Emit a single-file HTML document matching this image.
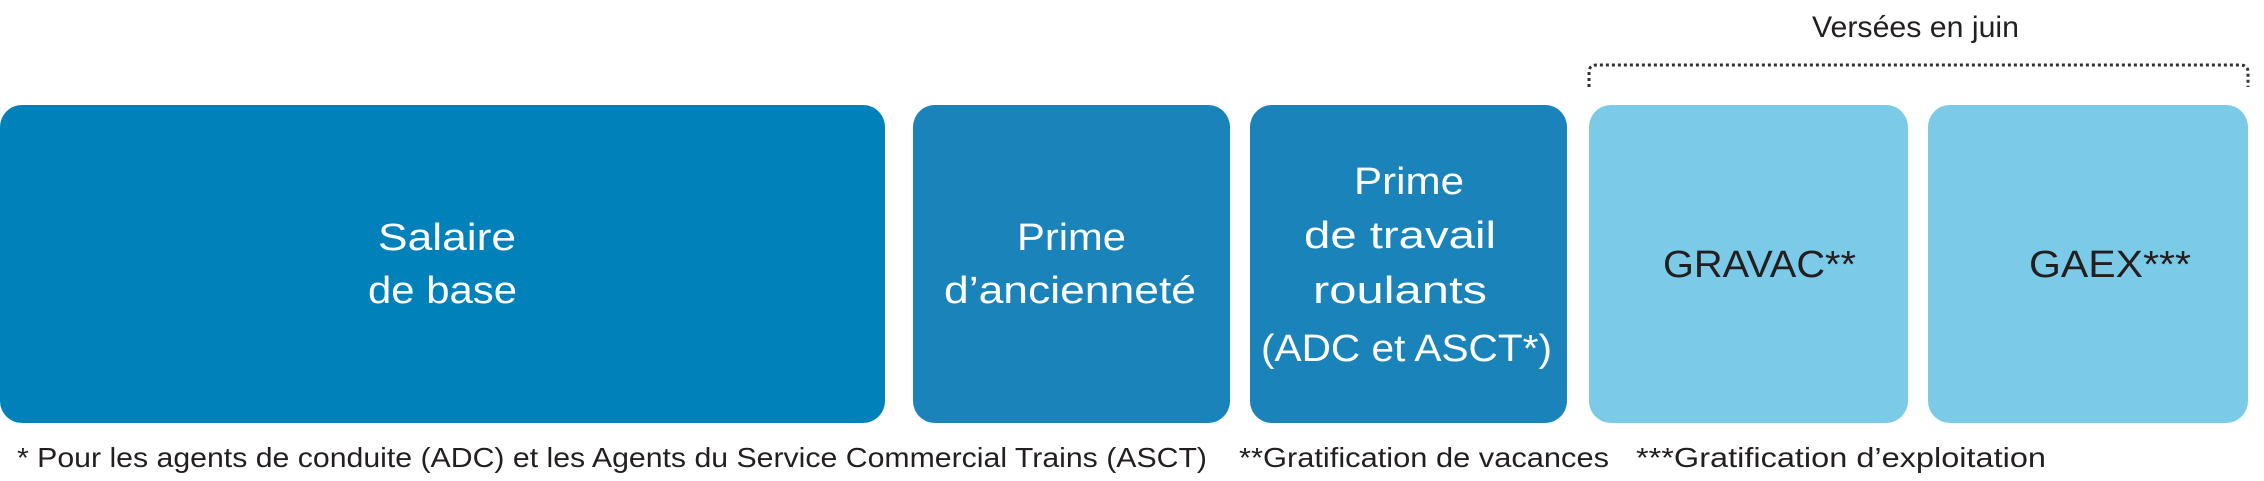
<!DOCTYPE html>
<html><head><meta charset="utf-8"><style>html,body{margin:0;padding:0;background:#fff}svg{display:block}</style></head>
<body>
<svg width="2264" height="481" xmlns="http://www.w3.org/2000/svg" font-family="Liberation Sans, sans-serif">
<rect x="0" y="105" width="885" height="318" rx="22" fill="#0081BA"/>
<rect x="913" y="105" width="317" height="318" rx="22" fill="#1A83BA"/>
<rect x="1250" y="105" width="317" height="318" rx="22" fill="#1A83BA"/>
<rect x="1589" y="105" width="319" height="318" rx="22" fill="#7BCBE8"/>
<rect x="1928" y="105" width="320" height="318" rx="22" fill="#7BCBE8"/>
<path d="M1589 87 V72 Q1589 65 1597 65 H2240 Q2248 65 2248 72 V87" fill="none" stroke="#333" stroke-width="3" stroke-dasharray="3 3"/>
<g fill="#fff" font-size="38">
<text x="378" y="250" textLength="138" lengthAdjust="spacingAndGlyphs">Salaire</text>
<text x="368" y="303" textLength="149" lengthAdjust="spacingAndGlyphs">de base</text>
<text x="1017" y="250" textLength="109" lengthAdjust="spacingAndGlyphs">Prime</text>
<text x="944" y="303" textLength="252" lengthAdjust="spacingAndGlyphs">d’ancienneté</text>
<text x="1354" y="194" textLength="110" lengthAdjust="spacingAndGlyphs">Prime</text>
<text x="1304" y="248" textLength="192" lengthAdjust="spacingAndGlyphs">de travail</text>
<text x="1313" y="303" textLength="174" lengthAdjust="spacingAndGlyphs">roulants</text>
<text x="1261" y="361" textLength="291" lengthAdjust="spacingAndGlyphs">(ADC et ASCT*)</text>
</g>
<g fill="#231F20">
<text x="1663" y="277" font-size="38" textLength="193" lengthAdjust="spacingAndGlyphs">GRAVAC**</text>
<text x="2029" y="277" font-size="38" textLength="162" lengthAdjust="spacingAndGlyphs">GAEX***</text>
<text x="1812" y="37" font-size="30" textLength="207" lengthAdjust="spacingAndGlyphs">Versées en juin</text>
<g font-size="28">
<text x="17" y="467" textLength="1190" lengthAdjust="spacingAndGlyphs">* Pour les agents de conduite (ADC) et les Agents du Service Commercial Trains (ASCT)</text>
<text x="1239" y="467" textLength="370" lengthAdjust="spacingAndGlyphs">**Gratification de vacances</text>
<text x="1636" y="467" textLength="410" lengthAdjust="spacingAndGlyphs">***Gratification d’exploitation</text>
</g>
</g>
</svg>
</body></html>
